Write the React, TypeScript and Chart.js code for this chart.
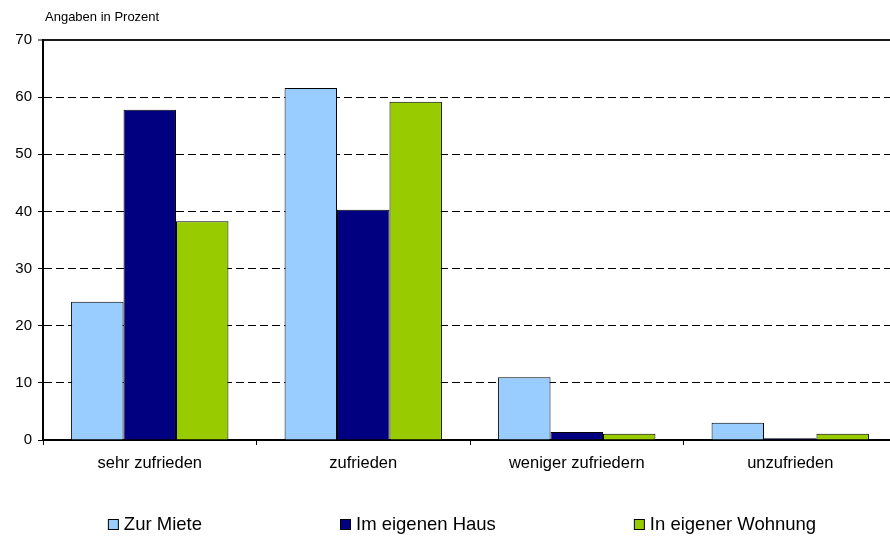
import React, { useEffect, useRef } from "react";
import { Chart, registerables } from "chart.js";

Chart.register(...registerables);

const categories = ["sehr zufrieden", "zufrieden", "weniger zufriedern", "unzufrieden"];
const seriesNames = ["Zur Miete", "Im eigenen Haus", "In eigener Wohnung"];
const zurMiete = [24.2, 61.6, 11.0, 3.0];
const imEigenenHaus = [57.8, 40.3, 1.4, 0.3];
const inEigenerWohnung = [38.3, 59.2, 1.1, 1.1];
const seriesColors = ["#99CCFF", "#000080", "#99CC00"];
const yTicks = [0, 10, 20, 30, 40, 50, 60, 70];
const unitNote = "Angaben in Prozent";

const FONT = "'Liberation Sans', Arial, Helvetica, sans-serif";

const extrasPlugin = {
  id: "extras",
  afterDraw(chart: any) {
    const { ctx, chartArea } = chart;
    ctx.save();
    // unit note
    ctx.fillStyle = "#000";
    ctx.font = `13px ${FONT}`;
    ctx.textAlign = "left";
    ctx.textBaseline = "alphabetic";
    ctx.fillText(unitNote, chartArea.left + 2, 21);

    // legend
    const ds = chart.data.datasets;
    ctx.font = `18.5px ${FONT}`;
    const box = 10;
    const boxGap = 6;
    const gap = 138;
    const widths = ds.map((d: any) => box + boxGap + ctx.measureText(d.label).width);
    const total = widths.reduce((a: number, b: number) => a + b, 0) + gap * (ds.length - 1);
    let x = 462 - total / 2;
    const cy = 524;
    ds.forEach((d: any, i: number) => {
      ctx.fillStyle = d.backgroundColor;
      ctx.fillRect(x + 0.5, cy - box / 2 + 0.5, box, box);
      ctx.strokeStyle = "#000";
      ctx.lineWidth = 1;
      ctx.strokeRect(x + 0.5, cy - box / 2 + 0.5, box, box);
      ctx.fillStyle = "#000";
      ctx.textBaseline = "middle";
      ctx.fillText(d.label, x + box + boxGap, cy + 1);
      x += widths[i] + gap;
    });
    ctx.restore();
  },
};

const CANVAS_W = 897;

export default function App() {
  const canvasRef = useRef<HTMLCanvasElement | null>(null);

  useEffect(() => {
    document.body.style.margin = "0";
    const canvas = canvasRef.current;
    if (!canvas) return;
    const values = [zurMiete, imEigenenHaus, inEigenerWohnung];
    const chart = new Chart(canvas, {
      type: "bar",
      data: {
        labels: categories,
        datasets: seriesNames.map((name, i) => ({
          label: name,
          data: values[i],
          backgroundColor: seriesColors[i],
          borderColor: "#000",
          borderWidth: 1,
          borderSkipped: "bottom",
          categoryPercentage: 0.737,
          barPercentage: 1,
        })),
      },
      options: {
        animation: false,
        responsive: false,
        maintainAspectRatio: false,
        layout: { padding: { top: 40, bottom: 60, left: 0, right: 0 } },
        plugins: {
          legend: { display: false },
          title: { display: false },
          tooltip: { enabled: false },
        },
        scales: {
          x: {
            grid: {
              offset: true,
              drawOnChartArea: false,
              drawTicks: true,
              tickLength: 5,
              tickColor: "#000",
              tickWidth: 1,
              color: "#000",
            },
            border: { display: true, color: "#000", width: 2 },
            ticks: {
              color: "#000",
              font: { family: FONT, size: 16.5 },
              padding: 9,
              maxRotation: 0,
              autoSkip: false,
            },
            afterFit: (s: any) => {
              s.height = 37;
            },
          },
          y: {
            min: 0,
            max: 70,
            afterBuildTicks: (s: any) => {
              s.ticks = yTicks.map((v) => ({ value: v }));
            },
            grid: {
              drawTicks: true,
              tickLength: 5,
              tickColor: "#000",
              tickWidth: 1,
              color: (c: any) => (c.tick && c.tick.value === 0 ? "rgba(0,0,0,0)" : c.tick && c.tick.value === 70 ? "#1a1a1a" : "#000"),
              lineWidth: (c: any) => (c.tick && c.tick.value === 70 ? 2 : 1),
            },
            border: {
              display: true,
              color: "#000",
              width: 2,
              dash: (c: any) => (c.tick && c.tick.value === 70 ? [] : [8, 4]),
            },
            ticks: {
              color: "#000",
              font: { family: FONT, size: 15 },
              padding: 6,
            },
            afterFit: (s: any) => {
              s.width = 43;
            },
          },
        },
      },
      plugins: [extrasPlugin],
    });
    return () => chart.destroy();
  }, []);

  return (
    <div style={{ position: "absolute", left: 0, top: 0, width: 890, height: 537, overflow: "hidden", background: "#fff" }}>
      <canvas ref={canvasRef} width={CANVAS_W} height={537} style={{ width: CANVAS_W, height: 537, display: "block" }} />
    </div>
  );
}
